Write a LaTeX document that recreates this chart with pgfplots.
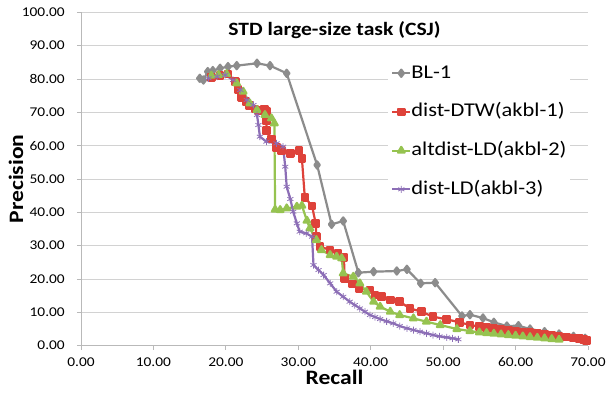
\documentclass[border=0pt]{standalone}
\usepackage{fontspec}
\setmainfont{Carlito}[FakeStretch=1.15]
\usepackage{pgfplots}
\pgfplotsset{compat=1.18}
\definecolor{cgray}{RGB}{140,140,140}
\definecolor{cred}{RGB}{222,66,58}
\definecolor{cgreen}{RGB}{150,195,80}
\definecolor{cpurple}{RGB}{140,110,182}
\definecolor{cgrid}{RGB}{210,210,210}
\definecolor{caxis}{RGB}{185,185,185}
\begin{document}
\begin{tikzpicture}
\path[use as bounding box] (-81bp,-51.3bp) rectangle (526bp,345.7bp);
\begin{axis}[
  at={(0,0)}, anchor=south west,
  scale only axis, width=507bp, height=333.4bp,
  xmin=0, xmax=70, ymin=0, ymax=100,
  xtick={0,10,...,70}, ytick={0,10,...,100},
  axis x line=bottom, axis y line=left,
  axis line style={draw=caxis, line width=0.8bp, -},
  ymajorgrids, grid style={draw=cgrid, line width=0.8bp},
  tick align=outside, major tick length=4bp,
  tick style={draw=caxis, line width=0.8bp},
  /pgf/number format/.cd, fixed, fixed zerofill, precision=2, assume math mode=true, /pgfplots/.cd,
  ticklabel style={font=\fontsize{13.4bp}{16bp}\selectfont, inner sep=0pt},
  yticklabel style={anchor=east, xshift=-12bp},
  xticklabel style={anchor=north, yshift=-8bp},
  xlabel={\textbf{Recall}}, ylabel={\textbf{Precision}},
  label style={font=\fontsize{20.5bp}{24bp}\selectfont},
  xlabel style={at={(axis description cs:0.5,-0.1164)}, anchor=base},
  ylabel style={at={(axis description cs:-0.1144,0.5)}, anchor=base, rotate=0},
  legend style={at={(rel axis cs:0.6055,0.856)}, anchor=north west, draw=none, fill=white,
    font=\fontsize{19.5bp}{23bp}\selectfont, inner sep=3bp, row sep=19.2bp,
    nodes={inner sep=0pt, text height=14.5bp, text depth=5bp}},
  legend cell align=left,
  legend image code/.code={\draw[mark repeat=2,mark phase=2] plot coordinates {(0bp,0bp) (9bp,0bp) (18bp,0bp)};},
  every axis plot/.append style={line width=2.2bp, line join=round},
  clip=false,
]
\node[font=\fontsize{18.8bp}{22bp}\selectfont\bfseries, anchor=base] at (rel axis cs:0.5,0.930) {STD large-size task (CSJ)};
\addplot[cgray, mark=diamond*, mark size=3.6bp, mark options={solid}] coordinates {
(16.4,80.2) (16.9,79.7) (17.5,82.2) (18.2,82.5) (19.2,83.2) (20.3,83.7) (21.5,84.0) (24.3,84.7) (26.1,84.0) (28.4,81.7) (32.6,54.2) (34.6,36.4) (36.2,37.4) (38.3,21.9) (40.4,22.2) (43.6,22.4) (45.0,22.9) (46.9,18.7) (48.9,18.9) (52.6,8.9) (53.7,9.3) (55.5,8.3) (57.0,7.0) (58.8,5.9) (60.4,6.0) (62.0,5.0) (64.0,4.2) (66.0,3.5) (68.0,2.8) (69.6,2.2)
};
\addlegendentry{BL-1}
\addplot[cred, mark=square*, mark size=3.2bp] coordinates {
(18.0,80.5) (19.2,81.0) (20.3,81.5) (21.3,79.2) (21.7,76.9) (22.2,74.5) (22.8,73.2) (23.3,72.0) (24.0,71.0) (24.5,70.5) (25.3,71.0) (25.6,70.2) (25.6,67.5) (25.6,64.5) (26.3,62.0) (27.0,59.5) (27.7,58.5) (28.9,57.7) (30.1,58.5) (30.5,56.2) (30.9,44.5) (31.9,41.9) (32.4,36.7) (32.5,32.7) (33.0,29.7) (34.4,28.7) (35.5,27.7) (36.3,26.5) (36.4,20.2) (37.5,18.5) (38.4,17.2) (39.9,16.7) (40.6,15.2) (41.5,14.7) (42.7,13.7) (44.0,13.2) (45.4,11.2) (47.0,10.2) (48.6,8.7) (50.5,7.9) (52.3,7.0) (53.7,6.2) (55.0,5.8) (56.0,5.5) (57.0,5.2) (58.0,4.9) (59.0,4.6) (60.0,4.4) (61.0,4.1) (62.0,3.9) (63.0,3.6) (64.0,3.4) (65.0,3.1) (66.0,2.9) (67.0,2.6) (68.0,2.3) (68.8,2.1) (69.4,1.9) (69.8,1.6)
};
\addlegendentry{dist-DTW(akbl-1)}
\addplot[cgreen, mark=triangle*, mark size=3.8bp] coordinates {
(18.0,81.0) (19.0,81.2) (20.1,81.5) (21.5,78.7) (22.4,76.2) (23.3,72.7) (24.3,70.7) (25.4,69.2) (26.3,68.2) (26.7,66.7) (26.8,40.8) (27.5,40.7) (28.4,41.2) (29.8,41.7) (30.5,42.0) (31.2,37.5) (31.6,35.2) (32.5,31.7) (33.2,28.7) (34.4,27.2) (35.3,26.7) (36.0,26.2) (36.2,21.7) (37.6,20.7) (38.5,18.7) (39.4,16.2) (40.4,13.2) (41.3,11.7) (42.7,10.2) (44.0,9.2) (45.9,8.2) (47.7,7.2) (49.6,6.2) (51.9,5.0) (53.7,4.4) (55.0,4.0) (56.0,3.8) (57.0,3.6) (58.0,3.4) (59.0,3.2) (60.0,3.0) (61.0,2.8) (62.0,2.6) (63.0,2.4) (64.0,2.2) (65.0,2.0) (66.0,1.8)
};
\addlegendentry{altdist-LD(akbl-2)}
\addplot[cpurple, mark=asterisk, mark size=3.5bp, mark options={line width=0.8bp}] coordinates {
(17.6,80.2) (18.8,80.7) (19.9,81.2) (21.0,79.7) (22.0,76.7) (22.9,73.7) (23.8,72.2) (24.3,69.2) (24.5,66.2) (24.7,62.7) (25.6,61.2) (27.0,60.7) (27.9,59.7) (28.2,53.7) (28.4,47.7) (28.9,44.0) (29.3,40.2) (29.8,36.7) (30.2,34.2) (31.1,33.7) (31.9,32.7) (32.1,24.2) (32.8,22.7) (33.5,21.2) (34.4,18.7) (35.3,16.2) (36.2,14.7) (37.1,13.2) (37.8,12.2) (38.5,11.2) (39.2,10.2) (39.9,9.2) (40.6,8.6) (41.3,8.0) (42.2,7.3) (43.1,6.7) (44.0,5.9) (45.0,5.2) (45.9,4.7) (46.8,4.2) (47.7,3.7) (48.6,3.2) (49.5,2.8) (50.5,2.5) (51.3,2.2) (52.1,1.9)
};
\addlegendentry{dist-LD(akbl-3)}
\end{axis}
\end{tikzpicture}
\end{document}
